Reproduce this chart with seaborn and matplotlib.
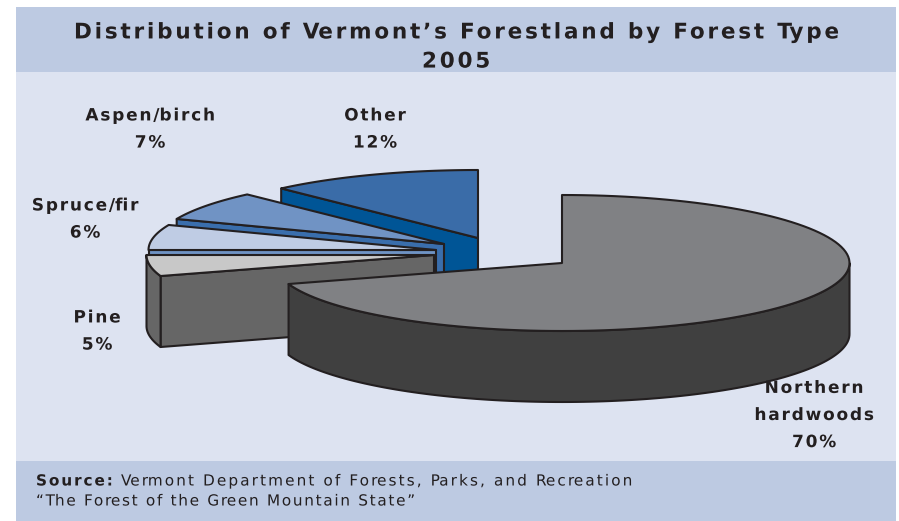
import numpy as np
import matplotlib
matplotlib.use("Agg")
import matplotlib.pyplot as plt
from matplotlib.patches import Rectangle
from matplotlib.path import Path
from matplotlib.patheffects import AbstractPathEffect
from matplotlib.transforms import IdentityTransform
import seaborn as sns

# Forest type shares, clockwise from 12 o'clock
forest_types = ["Northern\nhardwoods", "Pine", "Spruce/fir", "Aspen/birch", "Other"]
shares = [70, 5, 6, 7, 12]
top_hex = ["#808184", "#c8c8c8", "#bfcce4", "#7093c4", "#3a6ca8"]
side_hex = ["#404040", "#666666", "#6f93c4", "#3a6eac", "#005596"]
# How far each slice is pulled away from the pie centre (x, y)
explode_x = [0, -128, -126, -118, -84]
explode_y = [0, -8, -13, -19, -25]
label_x = [814, 97, 85, 150, 375]
label_y = [415, 331, 219, 129, 129]

sns.set_style("white")
top_colors = sns.color_palette(top_hex)
side_colors = sns.color_palette(side_hex)

CX, CY, RX, RY, DEPTH = 562, 263, 287.5, 68, 71
INK = "#231f20"
LW = 1.5
PANEL = "#dde3f1"
BAND = "#bdcae2"


class LetterSpacing(AbstractPathEffect):
    """Open up the tracking of a text line by moving its glyph outlines apart."""

    def __init__(self, pixels, centered=False):
        super().__init__()
        self.pixels = pixels
        self.centered = centered

    def draw_path(self, renderer, gc, tpath, affine, rgbFace=None):
        verts = affine.transform(tpath.vertices)
        codes = tpath.codes
        starts = [k for k, c in enumerate(codes) if c == Path.MOVETO] + [len(codes)]
        # Contours that overlap horizontally belong to one glyph
        shifts = np.zeros(len(verts))
        step, right = 0, None
        em = verts[:, 1].max() - verts[:, 1].min()
        for a, b in zip(starts[:-1], starts[1:]):
            lo, hi = verts[a:b, 0].min(), verts[a:b, 0].max()
            if right is not None and lo > right:
                step += 2 if lo - right > 0.2 * em else 1
            shifts[a:b] = step * self.pixels
            right = hi if right is None else max(right, hi)
        if self.centered:
            shifts -= step * self.pixels / 2
        verts = verts.copy()
        verts[:, 0] += shifts
        renderer.draw_path(gc, Path(verts, codes), IdentityTransform(), rgbFace)


fig = plt.figure(figsize=(8.99, 5.21), dpi=100)
ax = fig.add_axes([0, 0, 1, 1])
ax.set_xlim(0, 899)
ax.set_ylim(521, 0)
ax.axis("off")

ax.add_patch(Rectangle((16, 7), 880, 514, fc=PANEL, ec="none", zorder=0))
ax.add_patch(Rectangle((16, 7), 880, 65, fc=BAND, ec="none", zorder=1))
ax.add_patch(Rectangle((16, 461), 880, 60, fc=BAND, ec="none", zorder=1))


def rim(cx, cy, start, stop):
    theta = np.radians(np.linspace(start, stop, 120))
    return cx + RX * np.sin(theta), cy - RY * np.cos(theta)


def outline(xs, ys, color, z):
    ax.fill(xs, ys, fc=color, ec=INK, lw=LW, joinstyle="round", zorder=z)


edges = np.concatenate([[0], np.cumsum(shares)]) * 3.6
# Back slices first, the large front slice last
draw_order = [4, 3, 2, 1, 0]
for rank, i in enumerate(draw_order):
    z = 2 + rank
    cx, cy = CX + explode_x[i], CY + explode_y[i]
    start, stop = edges[i], edges[i + 1]

    # radial cut face, only seen for slices pulled to the upper left
    if i != 0:
        ex, ey = rim(cx, cy, start, start)
        outline([cx, ex[0], ex[0], cx], [cy, ey[0], ey[0] + DEPTH, cy + DEPTH],
                side_colors[i], z)

    # outer wall: only the part of the rim that faces the viewer
    lo, hi = max(start, 90), min(stop, 270)
    if lo < hi:
        wx, wy = rim(cx, cy, lo, hi)
        outline(np.r_[wx, wx[::-1]], np.r_[wy, wy[::-1] + DEPTH], side_colors[i], z)

    # top surface
    tx, ty = rim(cx, cy, start, stop)
    outline(np.r_[cx, tx], np.r_[cy, ty], top_colors[i], z)

# Slice labels
for name, share, x, y in zip(forest_types, shares, label_x, label_y):
    ax.text(x, y, f"{name}\n{share}%", ha="center", va="center", color=INK,
            fontsize=12.2, fontweight="bold", linespacing=1.65,
            family="DejaVu Sans", zorder=10,
            path_effects=[LetterSpacing(1.8, centered=True)])

# Title band
ax.text(456, 47, "Distribution of Vermont\u2019s Forestland by Forest Type\n2005",
        ha="center", va="center", color=INK, fontsize=15.5, fontweight="bold",
        linespacing=1.57, family="DejaVu Sans", zorder=10,
        path_effects=[LetterSpacing(2.8, centered=True)])

# Source band
footer = dict(ha="left", va="center", color=INK, fontsize=11,
              family="DejaVu Sans", zorder=10)
ax.text(36, 481, "Source:", fontweight="bold",
        path_effects=[LetterSpacing(1.9)], **footer)
ax.text(121, 481, "Vermont Department of Forests, Parks, and Recreation",
        path_effects=[LetterSpacing(2.1)], **footer)
ax.text(36, 501, "\u201cThe Forest of the Green Mountain State\u201d",
        path_effects=[LetterSpacing(1.7)], **footer)

fig.savefig("out.png", dpi=100, facecolor="white")
